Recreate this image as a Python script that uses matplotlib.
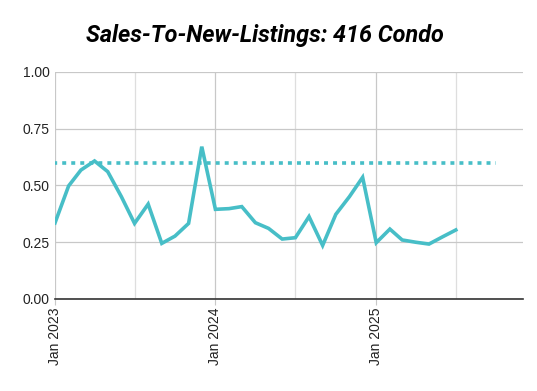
import matplotlib.pyplot as plt
import matplotlib.dates as mdates
import pandas as pd

# monthly sales-to-new-listings ratio, Jan 2023 .. Jul 2025
months = pd.date_range('2023-01-01', '2025-07-01', freq='MS')
snlr = [0.335, 0.498, 0.568, 0.608, 0.561, 0.451, 0.333, 0.418, 0.245, 0.277, 0.333, 0.671,
        0.395, 0.398, 0.407, 0.336, 0.311, 0.264, 0.270, 0.363, 0.236, 0.373, 0.451, 0.536,
        0.248, 0.308, 0.260, 0.250, 0.242, 0.274, 0.304]

# balanced-market threshold line
threshold_months = pd.date_range('2023-01-01', '2025-10-01', freq='MS')
threshold = [0.6] * len(threshold_months)

y_ticks = [0.0, 0.25, 0.5, 0.75, 1.0]
title = 'Sales-To-New-Listings: 416 Condo'
color = '#47bec7'

fig = plt.figure(figsize=(5.37, 3.91), dpi=100)
ax = fig.add_axes([0.1024, 0.2353, 0.8716, 0.5806])

ax.plot(threshold_months, threshold, color=color, lw=2.6, linestyle=(0.5, (1.1, 1.4)), zorder=3)
ax.plot(months, snlr, color=color, lw=2.6, solid_joinstyle='miter', zorder=4)

ax.set_ylim(0, 1)
ax.set_yticks(y_ticks)
ax.set_yticklabels([f'{v:.2f}' for v in y_ticks])
ax.set_xlim(pd.Timestamp('2023-01-01'), pd.Timestamp('2025-12-01'))

ax.xaxis.set_major_locator(mdates.MonthLocator(bymonth=1))
ax.xaxis.set_major_formatter(mdates.DateFormatter('%b %Y'))
ax.xaxis.set_minor_locator(mdates.MonthLocator(bymonth=7))

ax.grid(which='major', axis='both', color='#c8c8c8', lw=0.9)
ax.grid(which='minor', axis='x', color='#dedede', lw=0.9)
for s in ['left', 'right', 'top']:
    ax.spines[s].set_visible(False)
ax.spines['bottom'].set_color('#333333')
ax.spines['bottom'].set_linewidth(1.2)

ax.tick_params(axis='y', length=0, pad=4, labelsize=10, labelcolor='#222222')
ax.tick_params(axis='x', which='major', length=4, color='#c8c8c8', pad=2, labelsize=10,
               labelcolor='#222222', labelrotation=90)
ax.tick_params(axis='x', which='minor', length=0)
for lab in ax.get_xticklabels() + ax.get_yticklabels():
    lab.set_fontfamily('Liberation Sans')

fig.text(0.4935, 0.91, title, ha='center', va='center', fontsize=16.8,
         fontfamily='Roboto', fontweight='bold', fontstyle='italic')

fig.savefig('out.png', dpi=100)
